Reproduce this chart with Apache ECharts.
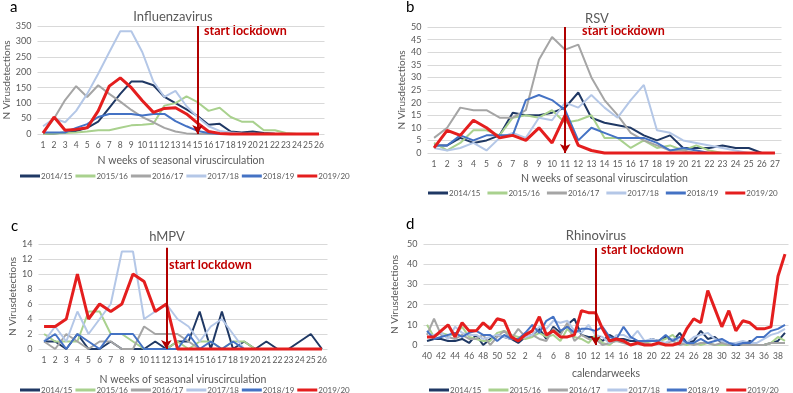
<!DOCTYPE html>
<html>
<head>
<meta charset="utf-8">
<script src="https://cdn.jsdelivr.net/npm/echarts@6/dist/echarts.min.js"></script>
<style>
  html, body { margin: 0; padding: 0; background: #fff; }
  #container { width: 793px; height: 393px; }
</style>
</head>
<body>
<div id="container"></div>
<script>
// season names + colours (same in all four panels)
const seasons = ["2014/15", "2015/16", "2016/17", "2017/18", "2018/19", "2019/20"];
const seasonColors = ["#1f3864", "#a9d18e", "#a5a5a5", "#b4c7e7", "#4472c4", "#e41e1e"];

// a: Influenzavirus, weeks 1..26
const fluWeeks = ["1","2","3","4","5","6","7","8","9","10","11","12","13","14","15","16","17","18","19","20","21","22","23","24","25","26"];
const flu1415 = [0, 2, 5, 10, 20, 40, 85, 130, 170, 170, 158, 120, 100, 80, 58, 30, 33, 8, 5, 8, 3, 1, 0, 0, 0, 0];
const flu1516 = [0, 2, 3, 5, 8, 12, 12, 20, 28, 30, 33, 92, 100, 122, 103, 75, 85, 55, 40, 40, 12, 12, 3, 0, 0, 0];
const flu1617 = [5, 50, 110, 155, 120, 158, 130, 105, 78, 55, 38, 20, 8, 2, 0, 0, 0, 0, 0, 0, 0, 0, 0, 0, 0, 0];
const flu1718 = [25, 50, 38, 75, 130, 195, 265, 333, 333, 265, 170, 120, 140, 90, 55, 25, 10, 5, 2, 1, 0, 0, 0, 0, 0, 0];
const flu1819 = [5, 5, 5, 20, 32, 55, 65, 65, 65, 60, 65, 65, 42, 25, 10, 3, 0, 0, 0, 0, 0, 0, 0, 0, 0, 0];
const flu1920 = [3, 55, 12, 15, 20, 75, 155, 182, 150, 108, 70, 83, 85, 65, 35, 8, 2, 0, 0, 0, 0, 0, 0, 0, 0, 0];

// b: RSV, weeks 1..27
const rsvWeeks = ["1","2","3","4","5","6","7","8","9","10","11","12","13","14","15","16","17","18","19","20","21","22","23","24","25","26","27"];
const rsv1415 = [3, 3, 6, 4, 5, 7, 16, 15, 15, 16, 18, 24, 14, 12, 11, 10, 7, 5, 7, 2, 2, 2, 3, 2, 2, 0, 0];
const rsv1516 = [4, 1, 4, 9, 9, 7, 14, 15, 14, 17, 12, 13, 15, 6, 6, 2, 5, 2, 3, 1, 3, 1, 0, 0, 0, 0, 0];
const rsv1617 = [6, 10, 18, 17, 17, 14, 14, 17, 37, 46, 41, 43, 30, 21, 15, 8, 5, 3, 1, 1, 0, 0, 0, 0, 0, 0, 0];
const rsv1718 = [2, 1, 2, 4, 1, 6, 8, 6, 14, 13, 20, 18, 23, 18, 14, 21, 27, 9, 8, 5, 4, 3, 2, 1, 0, 0, 0];
const rsv1819 = [3, 3, 7, 5, 7, 7, 7, 21, 23, 21, 17, 5, 10, 8, 6, 6, 6, 4, 1, 2, 1, 0, 0, 0, 0, 0, 0];
const rsv1920 = [2, 9, 7, 13, 10, 6, 7, 5, 10, 4, 15, 3, 1, 0, 0, 0, 0, 0, 0, 0, 0, 0, 0, 0, 0, 0, 0];

// c: hMPV, weeks 1..26
const hmpvWeeks = fluWeeks;
const hmpv1415 = [1, 1, 0, 2, 0, 0, 1, 0, 0, 0, 1, 0, 1, 1, 5, 0, 5, 0, 1, 0, 1, 0, 0, 1, 2, 0];
const hmpv1516 = [2, 1, 1, 1, 5, 5, 2, 2, 1, 0, 0, 0, 1, 0, 1, 1, 0, 1, 1, 0, 0, 0, 0, 0, 0, 0];
const hmpv1617 = [1, 0, 2, 1, 0, 1, 1, 0, 0, 3, 2, 2, 2, 1, 0, 0, 0, 0, 0, 0, 0, 0, 0, 0, 0, 0];
const hmpv1718 = [1, 3, 1, 5, 2, 4, 6, 13, 13, 4, 5, 6, 4, 3, 1, 3, 4, 2, 0, 0, 0, 0, 0, 0, 0, 0];
const hmpv1819 = [1, 2, 0, 2, 1, 0, 2, 2, 2, 0, 0, 0, 0, 2, 0, 1, 0, 1, 0, 0, 0, 0, 0, 0, 0, 0];
const hmpv1920 = [3, 3, 4, 10, 4, 6, 5, 6, 10, 9, 5, 6, 0, 0, 0, 0, 0, 0, 0, 0, 0, 0, 0, 0, 0, 0];

// d: Rhinovirus, calendar weeks 40..52, 1..39
const rhinoWeeks = ["40","41","42","43","44","45","46","47","48","49","50","51","52",
  "1","2","3","4","5","6","7","8","9","10","11","12","13","14","15","16","17","18","19","20",
  "21","22","23","24","25","26","27","28","29","30","31","32","33","34","35","36","37","38","39"];
const rhino1415 = [2, 3, 3, 2, 2, 3, 1, 5, 0, 3, 5, 4, 3, 1, 4, 5, 8, 3, 9, 6, 10, 13, 5, 4, 4, 2, 5, 3, 3, 2, 2, 1, 3, 2, 4, 2, 6, 1, 2, 7, 3, 4, 1, 0, 0, 0, 2, 0, 0, 1, 2, 6];
const rhino1516 = [10, 4, 6, 5, 5, 9, 4, 3, 2, 2, 6, 7, 5, 4, 3, 4, 6, 4, 5, 2, 8, 4, 3, 1, 5, 1, 0, 3, 2, 0, 1, 1, 2, 2, 3, 5, 1, 0, 1, 0, 1, 0, 0, 0, 1, 0, 0, 0, 0, 1, 4, 2];
const rhino1617 = [5, 13, 5, 4, 3, 5, 3, 3, 5, 0, 4, 7, 3, 8, 4, 5, 3, 2, 8, 5, 11, 2, 5, 3, 3, 0, 1, 2, 1, 0, 1, 1, 0, 1, 1, 2, 0, 1, 0, 1, 1, 0, 1, 0, 1, 0, 0, 0, 0, 1, 1, 1];
const rhino1718 = [4, 5, 6, 3, 9, 6, 5, 5, 3, 4, 5, 4, 3, 3, 4, 5, 9, 8, 12, 11, 12, 7, 6, 10, 5, 4, 1, 5, 5, 3, 7, 2, 3, 2, 1, 3, 2, 1, 4, 5, 6, 3, 2, 1, 1, 2, 1, 1, 3, 5, 6, 8];
const rhino1819 = [7, 3, 4, 5, 6, 4, 6, 7, 5, 5, 2, 5, 3, 3, 6, 10, 6, 12, 14, 7, 9, 6, 8, 8, 7, 9, 4, 3, 9, 4, 2, 2, 2, 2, 5, 2, 4, 1, 1, 3, 1, 2, 3, 1, 0, 1, 1, 4, 4, 7, 8, 10];
const rhino1920 = [4, 4, 7, 10, 4, 11, 7, 7, 11, 8, 13, 12, 4, 2, 5, 7, 14, 5, 7, 4, 4, 5, 17, 16, 16, 8, 2, 3, 2, 0, 1, 0, 0, 1, 0, 0, 1, 8, 13, 11, 27, 18, 9, 17, 7, 12, 11, 8, 8, 9, 34, 45];

// week of lockdown start (category index, hMPV sits between 11 and 12)
const lockdownIdx = [14, 10, 10.6, 24];
const arrowTop = [350, 50, 13.5, 48];

const panels = [
  { weeks: fluWeeks, data: [flu1415, flu1516, flu1617, flu1718, flu1819, flu1920], max: 350, step: 50,
    grid: { left: 37.5, top: 26, width: 287, height: 108 }, xName: "N weeks of seasonal viruscirculation", nameGap: 21 },
  { weeks: rsvWeeks, data: [rsv1415, rsv1516, rsv1617, rsv1718, rsv1819, rsv1920], max: 50, step: 5,
    grid: { left: 427.5, top: 27, width: 354, height: 126 }, xName: "N weeks of seasonal viruscirculation", nameGap: 20 },
  { weeks: hmpvWeeks, data: [hmpv1415, hmpv1516, hmpv1617, hmpv1718, hmpv1819, hmpv1920], max: 14, step: 2,
    grid: { left: 38.5, top: 244, width: 289, height: 105 }, xName: "N weeks of seasonal viruscirculation", nameGap: 25 },
  { weeks: rhinoWeeks, data: [rhino1415, rhino1516, rhino1617, rhino1718, rhino1819, rhino1920], max: 50, step: 10,
    grid: { left: 423.5, top: 244, width: 365, height: 101 }, xName: "calendarweeks", nameGap: 23 }
];

const font = "Lato, 'Open Sans', sans-serif";
const grey = "#595959";

function buildChart(container) {
  let myChart = echarts.init(document.getElementById(container));
  var grid = [], xAxis = [], yAxis = [], seriesData = [];
  for (let p = 0; p < panels.length; p++) {
    let pn = panels[p];
    grid.push(pn.grid);
    xAxis.push({
      type: "category",
      gridIndex: p,
      data: pn.weeks,
      boundaryGap: true,
      name: pn.xName,
      nameLocation: "middle",
      nameGap: pn.nameGap,
      nameTextStyle: { color: grey, fontSize: 10.5, fontFamily: font },
      axisLine: { show: false },
      axisTick: { show: false },
      axisLabel: { color: grey, fontSize: 8.5, fontFamily: font, margin: 7, interval: p === 3 ? 1 : 0 },
      splitLine: { show: false }
    });
    yAxis.push({
      type: "value",
      gridIndex: p,
      min: 0,
      max: pn.max,
      interval: pn.step,
      name: "N Virusdetections",
      nameLocation: "middle",
      nameGap: p === 0 || p === 3 ? 24 : 20,
      nameTextStyle: { color: grey, fontSize: 10, fontFamily: font },
      axisLine: { show: false },
      axisTick: { show: false },
      axisLabel: { color: grey, fontSize: 9, fontFamily: font, margin: 6 },
      splitLine: { lineStyle: { color: "#d9d9d9", width: 1 } }
    });
    for (let s = 0; s < seasons.length; s++) {
      let isRed = s === seasons.length - 1;
      let ser = {
        name: seasons[s],
        type: "line",
        xAxisIndex: p,
        yAxisIndex: p,
        data: pn.data[s],
        symbol: "none",
        color: seasonColors[s],
        lineStyle: { color: seasonColors[s], width: isRed ? 3 : 2 },
        clip: false,
        z: isRed ? 5 : 2
      };
      if (isRed) {
        // lockdown arrow
        ser.markLine = {
          silent: true,
          z: 10,
          symbol: "none",
          label: { show: false },
          itemStyle: { color: "#b00000" },
          lineStyle: { color: "#b00000", width: 2, type: "solid" },
          emphasis: { disabled: true },
          data: [[
            { coord: [lockdownIdx[p], arrowTop[p]], symbol: "none" },
            { coord: [lockdownIdx[p], 0], symbol: "arrow", symbolSize: [8, 9] }
          ]]
        };
      }
      seriesData.push(ser);
    }
  }

  const legendBase = {
    data: seasons,
    icon: "rect",
    itemWidth: 20,
    itemHeight: 3,
    width: 400,
    selectedMode: false,
    textStyle: { color: grey, fontSize: 8, fontFamily: font, padding: [0, 0, 0, -4] }
  };

  const options = {
    animation: false,
    grid: grid,
    xAxis: xAxis,
    yAxis: yAxis,
    legend: [
      Object.assign({}, legendBase, { left: 15, top: 167, itemGap: 3 }),
      Object.assign({}, legendBase, { left: 423, top: 184, itemGap: 7 }),
      Object.assign({}, legendBase, { left: 15, top: 381, itemGap: 3 }),
      Object.assign({}, legendBase, { left: 424, top: 381, itemGap: 7 })
    ],
    title: [
      { text: "Influenzavirus", left: 168, top: 5, textAlign: "center", textStyle: { color: grey, fontSize: 13, fontWeight: "normal", fontFamily: font } },
      { text: "RSV", left: 580, top: 7, textStyle: { color: grey, fontSize: 13, fontWeight: "normal", fontFamily: font } },
      { text: "hMPV", left: 162, top: 225, textAlign: "center", textStyle: { color: grey, fontSize: 13, fontWeight: "normal", fontFamily: font } },
      { text: "Rhinovirus", left: 591, top: 224, textAlign: "center", textStyle: { color: grey, fontSize: 13, fontWeight: "normal", fontFamily: font } }
    ],
    graphic: [
      { type: "text", left: 10, top: 0, style: { text: "a", fill: "#000", font: "15px " + font } },
      { type: "text", left: 406, top: 0, style: { text: "b", fill: "#000", font: "15px " + font } },
      { type: "text", left: 11, top: 219, style: { text: "c", fill: "#000", font: "15px " + font } },
      { type: "text", left: 406, top: 217, style: { text: "d", fill: "#000", font: "15px " + font } },
      { type: "text", left: 204, top: 24, style: { text: "start lockdown", fill: "#c00000", font: "bold 12.5px " + font } },
      { type: "text", left: 582, top: 24, style: { text: "start lockdown", fill: "#c00000", font: "bold 12.5px " + font } },
      { type: "text", left: 169, top: 258, style: { text: "start lockdown", fill: "#c00000", font: "bold 12.5px " + font } },
      { type: "text", left: 601, top: 243, style: { text: "start lockdown", fill: "#c00000", font: "bold 12.5px " + font } }
    ],
    series: seriesData
  };
  if (options && typeof options === "object") myChart.setOption(options);
  window.addEventListener("resize", function () {
    myChart.resize();
  });
}

buildChart("container");
</script>
</body>
</html>
